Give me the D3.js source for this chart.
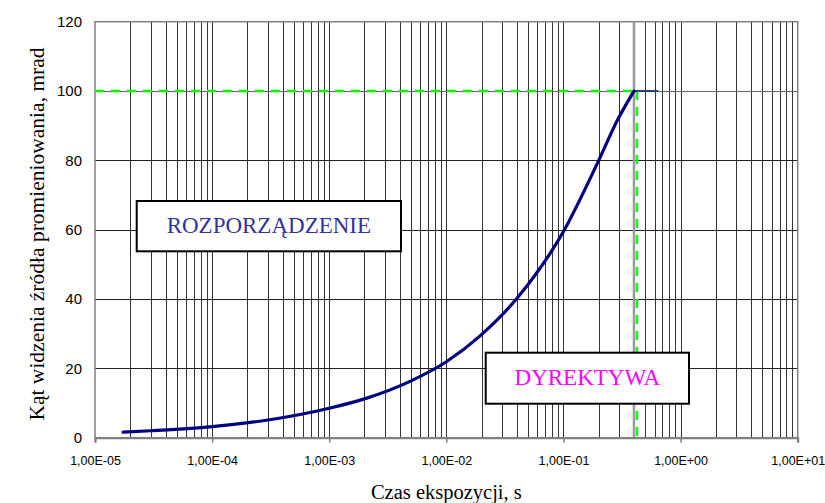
<!DOCTYPE html>
<html>
<head>
<meta charset="utf-8">
<script src="https://cdn.jsdelivr.net/npm/d3@7"></script>
<style>
  body { margin: 0; background: #fff; }
  svg { display: block; }
</style>
</head>
<body>
<div id="container"></div>
<script>
/* CONSTANTS AND GLOBALS */
const width = 825;
const height = 503;
const margin = { top: 21.7, right: 27.3, bottom: 65.3, left: 95 };

// data: exposure time (s) and angle (mrad)
const times  = [1.74e-5, 3e-5, 1e-4, 3e-4, 1e-3, 2e-3, 5e-3, 1e-2, 1.93e-2, 3.96e-2, 0.1, 0.2, 0.29, 0.4];
const angles = [1.6, 2.0, 3.2, 5.1, 8.5, 11.2, 16.4, 21.9, 29.3, 40, 59.5, 80, 91.7, 100];
const plateauTimes  = [0.4, 0.646];
const plateauAngles = [100, 100];
const limitTime = 0.4;
const limitAngle = 100;

const xDecades = [1e-5, 1e-4, 1e-3, 1e-2, 1e-1, 1e0, 1e1];
const yTicks = [0, 20, 40, 60, 80, 100, 120];

const labels = [
  { text: "ROZPORZĄDZENIE", color: "#333399", box: [136.7, 201, 264.3, 50.3], base: 232.5 },
  { text: "DYREKTYWA", color: "#ff00ff", box: [485.7, 352.7, 203.3, 51], base: 385 }
];

const svg = d3.select("#container")
  .append("svg")
  .attr("width", width)
  .attr("height", height)

/* SCALES */
const xScale = d3.scaleLog()
  .domain([1e-5, 10])
  .range([margin.left, width - margin.right])

const yScale = d3.scaleLinear()
  .domain([0, 120])
  .range([height - margin.bottom, margin.top])

// minor grid values 1..9 per decade
const minor = []
xDecades.slice(0, -1).forEach(d => {
  for (let k = 2; k <= 9; k++) minor.push(d * k)
})

/* GRID */
svg.selectAll(".vgrid")
  .data(minor.concat(xDecades.slice(1, -1)))
  .join("line")
  .attr("class", "vgrid")
  .attr("x1", d => Math.round(xScale(d)) + 0.5)
  .attr("x2", d => Math.round(xScale(d)) + 0.5)
  .attr("y1", yScale(120))
  .attr("y2", yScale(0))
  .attr("stroke", "#333")
  .attr("stroke-width", 1)

svg.selectAll(".hgrid")
  .data(yTicks.slice(1, -1))
  .join("line")
  .attr("class", "hgrid")
  .attr("x1", xScale(1e-5))
  .attr("x2", xScale(10))
  .attr("y1", d => Math.round(yScale(d)) + 0.5)
  .attr("y2", d => Math.round(yScale(d)) + 0.5)
  .attr("stroke", d => d === 100 ? "#666" : "#222")
  .attr("stroke-width", 1)

// plot border
svg.append("rect")
  .attr("x", xScale(1e-5))
  .attr("y", yScale(120))
  .attr("width", xScale(10) - xScale(1e-5))
  .attr("height", yScale(0) - yScale(120))
  .attr("fill", "none")
  .attr("stroke", "#808080")
  .attr("stroke-width", 1.5)

// grey vertical marker at the limit time
svg.append("line")
  .attr("x1", xScale(limitTime)).attr("x2", xScale(limitTime))
  .attr("y1", yScale(120)).attr("y2", yScale(0))
  .attr("stroke", "#999")
  .attr("stroke-width", 2.5)

/* AXES */
const fmt = d => {
  const e = Math.round(Math.log10(d))
  return "1,00E" + (e < 0 ? "-" : "+") + String(Math.abs(e)).padStart(2, "0")
}

const xAxis = svg.append("g")
  .attr("transform", `translate(0,${yScale(0)})`)
  .call(d3.axisBottom(xScale).tickValues(xDecades).tickFormat(fmt).tickSize(5).tickPadding(13))
xAxis.select(".domain").attr("stroke", "#808080").attr("stroke-width", 2)
xAxis.selectAll(".tick line").attr("stroke", "#808080").attr("stroke-width", 1.5)
xAxis.selectAll("text")
  .attr("font-family", "Liberation Sans, Arial, sans-serif")
  .attr("font-size", 12.5)
  .attr("fill", "#000")

const yAxis = svg.append("g")
  .attr("transform", `translate(${xScale(1e-5)},0)`)
  .call(d3.axisLeft(yScale).tickValues(yTicks).tickSize(0).tickPadding(13))
yAxis.select(".domain").remove()
yAxis.selectAll("text")
  .attr("font-family", "Liberation Sans, Arial, sans-serif")
  .attr("font-size", 15)
  .attr("fill", "#000")

/* LIMIT LINES */
svg.append("line")
  .attr("x1", xScale(1e-5)).attr("x2", xScale(limitTime))
  .attr("y1", yScale(limitAngle)).attr("y2", yScale(limitAngle))
  .attr("stroke", "#00ff00")
  .attr("stroke-width", 2.5)
  .attr("stroke-dasharray", "9,7")

svg.append("line")
  .attr("x1", xScale(limitTime) + 3).attr("x2", xScale(limitTime) + 3)
  .attr("y1", yScale(limitAngle)).attr("y2", yScale(0))
  .attr("stroke", "#00ff00")
  .attr("stroke-width", 2.5)
  .attr("stroke-dasharray", "9,7")

/* CURVE */
const line = d3.line()
  .x(d => xScale(d[0]))
  .y(d => yScale(d[1]))
  .curve(d3.curveMonotoneX)

svg.append("path")
  .datum(d3.zip(plateauTimes, plateauAngles))
  .attr("d", line)
  .attr("fill", "none")
  .attr("stroke", "#1f3f7f")
  .attr("stroke-width", 2)

svg.append("path")
  .datum(d3.zip(times, angles))
  .attr("d", line)
  .attr("fill", "none")
  .attr("stroke", "#000080")
  .attr("stroke-width", 3.2)
  .attr("stroke-linecap", "round")

/* TEXT BOXES */
labels.forEach(l => {
  svg.append("rect")
    .attr("x", l.box[0]).attr("y", l.box[1])
    .attr("width", l.box[2]).attr("height", l.box[3])
    .attr("fill", "#fff")
    .attr("stroke", "#000")
    .attr("stroke-width", 2)
  svg.append("text")
    .attr("x", l.box[0] + l.box[2] / 2)
    .attr("y", l.base)
    .attr("text-anchor", "middle")
    .attr("font-family", "Liberation Serif, Times New Roman, serif")
    .attr("font-size", 23)
    .attr("fill", l.color)
    .text(l.text)
})

/* TITLES */
svg.append("text")
  .attr("x", (xScale(1e-5) + xScale(10)) / 2)
  .attr("y", 499)
  .attr("text-anchor", "middle")
  .attr("font-family", "Liberation Serif, Times New Roman, serif")
  .attr("font-size", 20.5)
  .text("Czas ekspozycji, s")

svg.append("text")
  .attr("transform", "translate(44,234) rotate(-90)")
  .attr("text-anchor", "middle")
  .attr("font-family", "Liberation Serif, Times New Roman, serif")
  .attr("font-size", 21.5)
  .text("Kąt widzenia źródła promieniowania, mrad")
</script>
</body>
</html>
